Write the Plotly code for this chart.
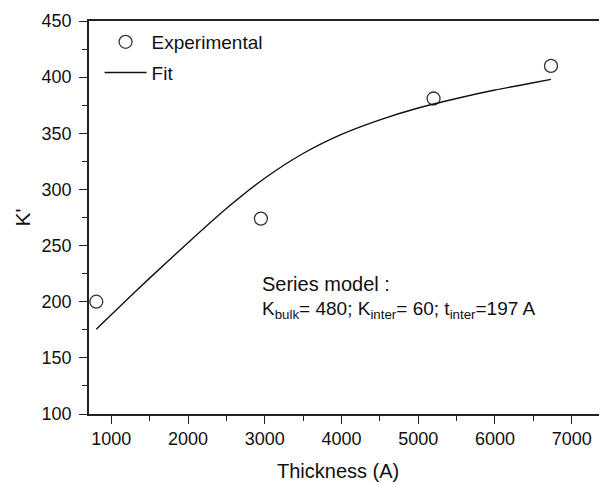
import plotly.graph_objects as go

# Experimental data
thickness_exp = [805, 2950, 5200, 6730]
k_exp = [200, 274, 381, 410]

# Fit curve
thickness_fit = [805, 1000, 1500, 2000, 2500, 3000, 3500, 4000, 4500, 5000, 5500, 6000, 6500, 6730]
k_fit = [175.5, 188.5, 221, 252.5, 283, 310, 332, 349, 362, 372.5, 381, 388.5, 395, 398]

x_ticks = [1000, 2000, 3000, 4000, 5000, 6000, 7000]
y_ticks = [100, 150, 200, 250, 300, 350, 400, 450]

FONT = "Liberation Sans, Arial, sans-serif"
AX = "#222222"
TXT = "#111111"

fig = go.Figure()
fig.add_trace(go.Scatter(
    x=thickness_exp, y=k_exp, mode="markers", name="Experimental", legendgroup="a",
    marker=dict(symbol="circle-open", size=13, color="#333333", line=dict(width=1.3, color="#333333")),
))
fig.add_trace(go.Scatter(
    x=thickness_fit, y=k_fit, mode="lines", name="Fit", legendgroup="b",
    line=dict(color="#111111", width=1.4, shape="spline", smoothing=0.8),
))

fig.update_layout(
    width=599, height=476,
    margin=dict(l=81, r=0, t=13, b=70),
    paper_bgcolor="white", plot_bgcolor="white",
    font=dict(family=FONT, size=18, color=TXT),
    showlegend=True,
    legend=dict(x=0.0204, y=0.995, xanchor="left", yanchor="top",
                bgcolor="rgba(0,0,0,0)", borderwidth=0, itemwidth=42,
                font=dict(size=19, family=FONT, color=TXT), tracegroupgap=3),
    xaxis=dict(
        range=[710, 7460], tickvals=x_ticks, ticktext=[str(v) for v in x_ticks],
        showgrid=False, zeroline=False, automargin=False,
        showline=True, linecolor=AX, linewidth=1.6, mirror=True,
        ticks="outside", ticklen=8, tickwidth=1.4, tickcolor=AX,
        minor=dict(dtick=500, tick0=0, ticks="outside", ticklen=5, tickwidth=1.2, tickcolor=AX, showgrid=False),
        tickfont=dict(size=18, family=FONT, color=TXT),
    ),
    yaxis=dict(
        range=[100, 450], tickvals=y_ticks, ticktext=[str(v) for v in y_ticks],
        showgrid=False, zeroline=False, automargin=False,
        showline=True, linecolor=AX, linewidth=1.6, mirror=False,
        ticks="outside", ticklen=8, tickwidth=1.4, tickcolor=AX,
        minor=dict(dtick=25, tick0=0, ticks="outside", ticklen=5, tickwidth=1.2, tickcolor=AX, showgrid=False),
        tickfont=dict(size=18, family=FONT, color=TXT), ticklabelstandoff=4,
    ),
)

# axis titles
fig.add_annotation(x=0.4807, y=0, xref="paper", yref="paper", xanchor="center", yanchor="middle",
                   yshift=-57, text="Thickness (A)", showarrow=False,
                   font=dict(size=20, family=FONT, color=TXT))
fig.add_annotation(x=0, y=0.5, xref="paper", yref="paper", xanchor="center", yanchor="middle",
                   xshift=-67, textangle=-90, text="K'", showarrow=False,
                   font=dict(size=21, family=FONT, color=TXT))

# model text
fig.add_annotation(x=2938, y=215.8, xref="x", yref="y", xanchor="left", yanchor="middle",
                   text="Series model :", showarrow=False, font=dict(size=20, family=FONT, color=TXT))
fig.add_annotation(x=2938, y=192.6, xref="x", yref="y", xanchor="left", yanchor="middle",
                   text="K<sub>bulk</sub>= 480; K<sub>inter</sub>= 60; t<sub>inter</sub>=197 A",
                   showarrow=False, font=dict(size=19, family=FONT, color=TXT))

fig.write_html("out.html")
